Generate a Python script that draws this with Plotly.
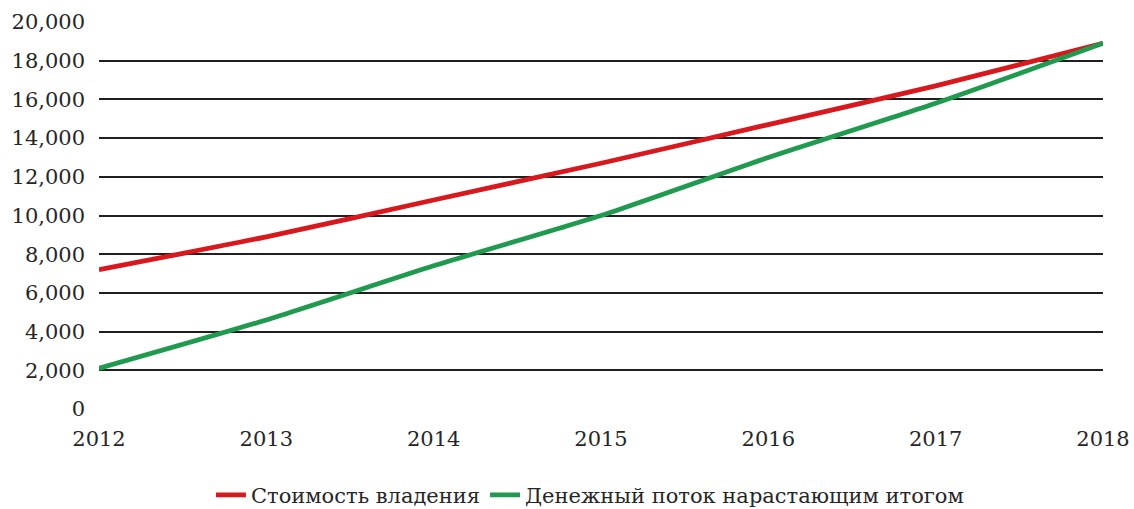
import plotly.graph_objects as go

years = [2012, 2013, 2014, 2015, 2016, 2017, 2018]
ownership_cost = [7200, 8900, 10800, 12700, 14700, 16700, 18900]
cumulative_cash_flow = [2100, 4600, 7400, 10000, 13000, 15800, 18900]
y_ticks = [0, 2000, 4000, 6000, 8000, 10000, 12000, 14000, 16000, 18000, 20000]
y_tick_labels = ["0", "2,000", "4,000", "6,000", "8,000", "10,000", "12,000",
                 "14,000", "16,000", "18,000", "20,000"]
series_names = ["Стоимость владения", "Денежный поток нарастающим итогом"]

font_family = "DejaVu Serif"
font_size = 21
text_color = "#262626"

fig = go.Figure()
fig.add_trace(go.Scatter(x=years, y=ownership_cost, mode="lines", name=series_names[0],
                         line=dict(color="#D8181C", width=4.8, shape="spline", smoothing=0.6)))
fig.add_trace(go.Scatter(x=years, y=cumulative_cash_flow, mode="lines", name=series_names[1],
                         line=dict(color="#1F9A4E", width=4.8, shape="spline", smoothing=0.6)))

fig.update_layout(
    width=1134, height=509,
    margin=dict(l=99, r=31, t=22, b=100, autoexpand=False),
    paper_bgcolor="white", plot_bgcolor="white",
    font=dict(family=font_family, size=font_size, color=text_color),
    showlegend=True,
    legend=dict(orientation="h", x=0.489, xanchor="center",
                yref="container", y=0.027, yanchor="middle",
                font=dict(family=font_family, size=font_size, color=text_color),
                itemwidth=30, tracegroupgap=0),
)
fig.update_xaxes(range=[2012, 2018], tickvals=years, ticktext=[str(y) for y in years],
                 showgrid=False, zeroline=False, showline=False, ticks="",
                 ticklabelstandoff=15,
                 tickfont=dict(family=font_family, size=font_size, color=text_color))
fig.update_yaxes(range=[0, 20000], tickvals=y_ticks, ticktext=y_tick_labels,
                 showgrid=True, gridcolor="#1f1f1f", gridwidth=1.6,
                 zeroline=False, showline=False, ticks="", ticklabelstandoff=13,
                 tickfont=dict(family=font_family, size=font_size, color=text_color))

fig.write_html("out.html", config={"displayModeBar": False},
               post_script="document.body.style.margin='0';")
